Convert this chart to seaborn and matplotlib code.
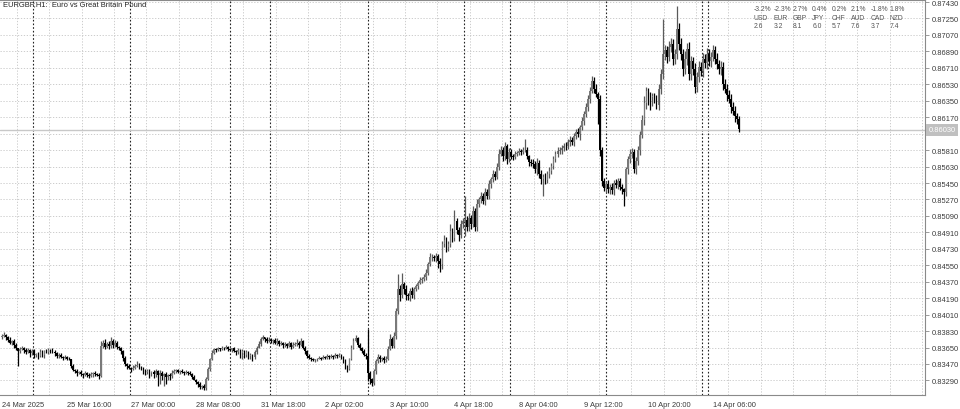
import numpy as np
import pandas as pd
import matplotlib
matplotlib.use("Agg")
import matplotlib.pyplot as plt
import seaborn as sns

# chart data (EURGBP H1)
title_text = "EURGBP,H1:  Euro vs Great Britain Pound"
first_open = 0.8376
closes = [
    0.8378, 0.8379, 0.8376, 0.8373, 0.8370, 0.8372, 0.8368, 0.8364, 0.8361, 0.8363, 0.8365, 0.8362, 0.8360, 0.8362, 0.8359, 0.8361, 0.8357,
    0.8358, 0.8356, 0.8360, 0.8357, 0.8361, 0.8360, 0.8362, 0.8361, 0.8360, 0.8359, 0.8356, 0.8357, 0.8355, 0.8354, 0.8355, 0.8353, 0.8352,
    0.8345, 0.8340, 0.8339, 0.8337, 0.8338, 0.8336, 0.8335, 0.8337, 0.8335, 0.8334, 0.8336, 0.8337, 0.8336, 0.8335, 0.8334,
    0.8367, 0.8370, 0.8366, 0.8369, 0.8367, 0.8372, 0.8368, 0.8370, 0.8366, 0.8364, 0.8361, 0.8354,
    0.8347, 0.8345, 0.8343, 0.8341, 0.8343, 0.8345, 0.8346, 0.8344, 0.8342, 0.8340, 0.8338, 0.8339, 0.8337, 0.8338, 0.8336,
    0.8339, 0.8335, 0.8337, 0.8334, 0.8336, 0.8333, 0.8335, 0.8334, 0.8337, 0.8339, 0.8340, 0.8338, 0.8339, 0.8338, 0.8337, 0.8338, 0.8337, 0.8336,
    0.8333, 0.8330, 0.8327, 0.8325, 0.8322, 0.8323, 0.8321, 0.8331, 0.8341, 0.8352, 0.8359,
    0.8363, 0.8362, 0.8364, 0.8363, 0.8365, 0.8364, 0.8366, 0.8363, 0.8362, 0.8364, 0.8361,
    0.8360, 0.8362, 0.8359, 0.8361, 0.8357, 0.8360, 0.8356, 0.8357, 0.8355, 0.8360,
    0.8365, 0.8369, 0.8374, 0.8376, 0.8374, 0.8372, 0.8373, 0.8372, 0.8373, 0.8370, 0.8372, 0.8369, 0.8370, 0.8368, 0.8369, 0.8367,
    0.8370, 0.8366, 0.8368, 0.8369, 0.8370, 0.8368, 0.8372, 0.8365, 0.8361, 0.8356, 0.8354, 0.8352, 0.8351, 0.8352,
    0.8353, 0.8354, 0.8353, 0.8355, 0.8354, 0.8356, 0.8355, 0.8356, 0.8355, 0.8357, 0.8356, 0.8357, 0.8355,
    0.8350, 0.8345, 0.8342, 0.8352, 0.8365, 0.8372, 0.8375, 0.8368, 0.8365, 0.8361, 0.8357, 0.8356,
    0.8337, 0.8331, 0.8326, 0.8339, 0.8350, 0.8355, 0.8352, 0.8354, 0.8351, 0.8353, 0.8363, 0.8374, 0.8367, 0.8378,
    0.8405, 0.8429, 0.8422, 0.8434, 0.8429, 0.8423, 0.8421, 0.8427, 0.8422, 0.8429, 0.8432, 0.8436, 0.8439, 0.8440, 0.8442, 0.8447,
    0.8456, 0.8464, 0.8464, 0.8463, 0.8465, 0.8460, 0.8456, 0.8478, 0.8483, 0.8475, 0.8478, 0.8492, 0.8485, 0.8503,
    0.8494, 0.8488, 0.8500, 0.8503, 0.8505, 0.8497, 0.8507, 0.8500, 0.8514, 0.8497, 0.8522, 0.8527, 0.8531, 0.8525, 0.8535, 0.8531,
    0.8544, 0.8549, 0.8555, 0.8552, 0.8563, 0.8577, 0.8581, 0.8574, 0.8585, 0.8571, 0.8579, 0.8575, 0.8573, 0.8577, 0.8578, 0.8580, 0.8579, 0.8581, 0.8581,
    0.8574, 0.8568, 0.8567, 0.8566, 0.8560, 0.8567, 0.8555, 0.8549, 0.8552, 0.8548, 0.8555, 0.8558, 0.8564, 0.8571, 0.8577, 0.8580,
    0.8581, 0.8583, 0.8586, 0.8585, 0.8590, 0.8592, 0.8590, 0.8596, 0.8601, 0.8599, 0.8606, 0.8613, 0.8620, 0.8628, 0.8637,
    0.8646, 0.8657, 0.8648, 0.8642, 0.8637, 0.8581, 0.8547, 0.8540, 0.8544, 0.8538, 0.8541, 0.8537, 0.8545, 0.8543, 0.8547, 0.8541, 0.8538, 0.8535,
    0.8560, 0.8571, 0.8577, 0.8579, 0.8560, 0.8569, 0.8581, 0.8598, 0.8614, 0.8632, 0.8646, 0.8642, 0.8639, 0.8640, 0.8637, 0.8630,
    0.8648, 0.8664, 0.8686, 0.8690, 0.8683, 0.8694, 0.8697, 0.8681, 0.8686, 0.8714, 0.8697, 0.8686, 0.8670, 0.8681, 0.8692, 0.8664,
    0.8678, 0.8670, 0.8650, 0.8661, 0.8672, 0.8667, 0.8681, 0.8676, 0.8686, 0.8678, 0.8683, 0.8690, 0.8681, 0.8675, 0.8670, 0.8672,
    0.8653, 0.8648, 0.8641, 0.8637, 0.8628, 0.8624, 0.8618, 0.8615, 0.8604,
]
# wick lengths above / below the body, in pips
wick_up = [
    2, 3, 1, 2, 3, 1, 2, 2, 1, 3, 2, 1, 2, 3, 1, 2, 2,
    1, 2, 3, 2, 1, 2, 2, 1, 3, 2, 1, 2, 2, 1, 2, 1, 2,
    1, 2, 1, 2, 1, 2, 1, 2, 1, 2, 2, 1, 2, 1, 2,
    5, 3, 4, 2, 3, 4, 2, 3, 2, 1, 2, 1,
    2, 1, 2, 1, 3, 2, 4, 2, 1, 2, 1, 3, 2, 1, 2,
    2, 1, 3, 2, 1, 2, 1, 2, 3, 2, 1, 2, 1, 2, 1, 2, 1, 2,
    1, 2, 1, 1, 2, 1, 2, 2, 3, 2, 3,
    2, 1, 2, 1, 2, 1, 2, 1, 2, 1, 2,
    1, 2, 1, 2, 1, 2, 1, 2, 1, 2,
    2, 3, 2, 3, 1, 2, 3, 2, 1, 2, 3, 1, 2, 1, 2, 1,
    2, 1, 3, 2, 4, 2, 3, 1, 2, 1, 2, 1, 2, 1,
    1, 2, 1, 2, 1, 2, 1, 2, 1, 2, 1, 2, 1,
    1, 2, 1, 2, 3, 3, 4, 2, 2, 1, 2, 2,
    29, 2, 1, 3, 2, 3, 2, 1, 2, 3, 4, 6, 3, 4,
    3, 16, 4, 13, 3, 4, 2, 3, 4, 2, 3, 2, 3, 2, 3, 4,
    3, 4, 3, 2, 3, 2, 3, 4, 5, 3, 4, 8, 4, 13,
    4, 3, 5, 4, 26, 4, 5, 3, 6, 4, 5, 3, 4, 3, 4, 3,
    4, 3, 4, 3, 4, 5, 4, 3, 5, 3, 4, 3, 2, 3, 2, 3, 2, 3, 12,
    3, 2, 3, 4, 3, 5, 3, 4, 3, 4, 3, 4, 3, 4, 3, 4,
    3, 4, 3, 4, 3, 4, 3, 4, 3, 4, 3, 4, 4, 5, 4,
    4, 5, 4, 5, 3, 4, 3, 4, 3, 4, 3, 4, 3, 4, 3, 4, 3, 2,
    3, 4, 5, 4, 3, 4, 5, 4, 5, 8, 4, 3, 3, 4, 3, 4,
    5, 6, 38, 6, 5, 6, 7, 5, 6, 25, 6, 7, 6, 8, 6, 7,
    6, 5, 6, 5, 6, 5, 6, 5, 7, 6, 5, 6, 5, 6, 5, 6,
    5, 6, 5, 6, 5, 6, 5, 4, 3,
]
wick_dn = [
    2, 1, 3, 2, 1, 2, 3, 2, 16, 2, 1, 3, 2, 1, 4, 2, 3,
    2, 3, 1, 2, 3, 1, 2, 2, 1, 3, 2, 2, 1, 3, 2, 2, 1,
    2, 1, 2, 3, 1, 2, 3, 1, 2, 2, 1, 3, 2, 1, 3,
    1, 2, 3, 2, 4, 2, 3, 2, 3, 2, 3, 4,
    2, 3, 2, 3, 1, 2, 1, 3, 2, 4, 3, 2, 5, 3, 4,
    3, 12, 10, 4, 11, 8, 3, 5, 2, 1, 2, 1, 2, 1, 2, 1, 2, 1,
    2, 1, 2, 3, 2, 2, 3, 2, 1, 2, 1,
    1, 2, 1, 2, 1, 2, 1, 2, 1, 2, 1,
    3, 2, 5, 6, 3, 2, 4, 3, 5, 2,
    2, 1, 2, 1, 3, 2, 1, 2, 3, 1, 2, 2, 1, 3, 2, 2,
    1, 3, 2, 1, 2, 3, 1, 2, 3, 2, 1, 2, 1, 2,
    2, 1, 2, 1, 2, 1, 2, 1, 2, 1, 2, 1, 2,
    2, 3, 4, 2, 1, 2, 1, 2, 3, 2, 1, 3,
    9, 6, 3, 2, 3, 2, 3, 2, 3, 2, 2, 1, 3, 2,
    4, 3, 6, 3, 5, 6, 4, 5, 3, 4, 2, 3, 2, 3, 2, 3,
    3, 2, 4, 3, 4, 8, 8, 5, 3, 6, 4, 3, 5, 3,
    5, 6, 3, 4, 16, 5, 4, 5, 3, 5, 4, 3, 4, 3, 4, 3,
    3, 4, 3, 4, 3, 4, 3, 5, 4, 5, 3, 4, 3, 2, 3, 2, 3, 2, 2,
    3, 4, 3, 5, 4, 6, 4, 5, 18, 4, 3, 4, 3, 4, 3, 4,
    3, 4, 3, 4, 3, 4, 3, 4, 3, 4, 7, 3, 4, 3, 4,
    4, 3, 4, 3, 27, 6, 5, 4, 5, 4, 5, 4, 5, 4, 5, 4, 5, 15,
    4, 5, 4, 5, 4, 5, 4, 5, 4, 5, 6, 12, 14, 10, 5, 4,
    5, 6, 5, 6, 7, 5, 6, 7, 6, 5, 7, 6, 8, 6, 7, 6,
    6, 7, 6, 5, 6, 5, 6, 5, 6, 5, 6, 5, 6, 5, 6, 7,
    6, 5, 6, 5, 6, 5, 6, 5, 3,
]

time_labels = ["24 Mar 2025", "25 Mar 16:00", "27 Mar 00:00", "28 Mar 08:00",
               "31 Mar 18:00", "2 Apr 02:00", "3 Apr 10:00", "4 Apr 18:00",
               "8 Apr 04:00", "9 Apr 12:00", "10 Apr 20:00", "14 Apr 06:00"]
# bars where the dark period separators are drawn
separator_bars = [15.5, 63.5, 113, 132.5, 181, 228.5, 251.5, 299, 346.5, 349.5]
price_ticks = [0.87430, 0.87250, 0.87070, 0.86890, 0.86710, 0.86530, 0.86350, 0.86170,
               0.85990, 0.85810, 0.85630, 0.85450, 0.85270, 0.85090, 0.84910, 0.84730,
               0.84550, 0.84370, 0.84190, 0.84010, 0.83830, 0.83650, 0.83470, 0.83290]
bid_price = 0.86030
ccy_names = ["USD", "EUR", "GBP", "JPY", "CHF", "AUD", "CAD", "NZD"]
ccy_change = ["-3.2%", "-2.3%", "2.7%", "0.4%", "0.2%", "2.1%", "-1.8%", "1.8%"]
ccy_score = ["2.6", "3.2", "8.1", "6.0", "5.7", "7.6", "3.7", "7.4"]

df = pd.DataFrame({"close": closes})
df["open"] = [first_open] + closes[:-1]
df["high"] = df[["open", "close"]].max(axis=1) + np.array(wick_up) * 0.0001
df["low"] = df[["open", "close"]].min(axis=1) - np.array(wick_dn) * 0.0001
df["bar"] = np.arange(len(df))
df["bull"] = df["close"] >= df["open"]

sns.set_theme(style="white")
plt.rcParams["font.family"] = ["Liberation Sans", "DejaVu Sans"]

W, H = 960, 410
fig = plt.figure(figsize=(W / 100, H / 100), dpi=100)
ax = fig.add_axes([0, 14 / H, 925 / W, 395 / H])

# pixel geometry of the MT4 window: bar i sits at x = 2 + 2.02 i
ax.set_xlim(-0.99, 456.93)
ax.set_ylim(0.87463 - 0.0001094 * 396, 0.87463 - 0.0001094 * 1)

grid_c = "#c4c4c4"
for p in price_ticks:
    ax.axhline(p, color=grid_c, lw=0.6, ls=(0, (1.5, 2)), zorder=0)
for b in np.arange(7.5, 457, 16):
    ax.axvline(b, color=grid_c, lw=0.6, ls=(0, (1.5, 2)), zorder=0)
for b in separator_bars:
    ax.axvline(b, color="#222222", lw=0.8, ls=(0, (1.5, 1.8)), zorder=1)

# bid line
ax.axhline(bid_price, color="#c8c8c8", lw=1.0, zorder=1)

bull = df[df["bull"]]
bear = df[~df["bull"]]
ax.vlines(bear["bar"], bear["low"], bear["high"], color="#000000", lw=0.9, zorder=3)
ax.vlines(bull["bar"], bull["low"], bull["high"], color="#5a5a5a", lw=0.9, zorder=3)
body_min = 0.00003
ax.bar(bear["bar"], np.maximum(bear["open"] - bear["close"], body_min), bottom=bear["close"],
       width=0.85, color="#000000", lw=0, zorder=4)
ax.bar(bull["bar"], np.maximum(bull["close"] - bull["open"], body_min), bottom=bull["open"],
       width=0.85, color="#7a7a7a", lw=0, zorder=4)

# axes styling
ax.spines["left"].set_visible(False)
for side in ["top", "right", "bottom"]:
    ax.spines[side].set_color("#8a8a8a")
    ax.spines[side].set_linewidth(0.8)

ax.yaxis.tick_right()
ax.set_yticks(price_ticks)
# the bid box covers the tick label next to it
ax.set_yticklabels(["" if abs(p - bid_price) < 0.0009 else "%.5f" % p for p in price_ticks])
ax.tick_params(axis="y", direction="out", length=3, width=0.6, color="#8a8a8a",
               labelsize=5.4, labelcolor="#3a3a3a", pad=1.5)
ax.set_xticks(np.arange(len(time_labels)) * 32)
ax.set_xticklabels(time_labels)
ax.tick_params(axis="x", direction="out", length=3, width=0.6, color="#8a8a8a",
               labelsize=5.4, labelcolor="#3a3a3a", pad=1.5)
for lab in ax.get_xticklabels():
    lab.set_horizontalalignment("left")

# current bid label on the price scale
ax.text(1.004, bid_price, "%.5f" % bid_price, transform=ax.get_yaxis_transform(),
        ha="left", va="center", fontsize=5.4, color="white",
        bbox=dict(boxstyle="square,pad=0.3", fc="#c0c0c0", ec="none"), clip_on=False)

fig.text(3 / W, 1 - 5 / H, title_text, ha="left", va="center", fontsize=5.4, color="#222222")

for k in range(len(ccy_names)):
    x = (754 + 19.4 * k) / W
    fig.text(x, 1 - 9.5 / H, ccy_change[k], ha="left", va="center", fontsize=4.9, color="#555555")
    fig.text(x, 1 - 18 / H, ccy_names[k], ha="left", va="center", fontsize=4.9, color="#555555")
    fig.text(x, 1 - 26.5 / H, ccy_score[k], ha="left", va="center", fontsize=4.9, color="#555555")

fig.savefig("out.png", dpi=100, facecolor="white")
